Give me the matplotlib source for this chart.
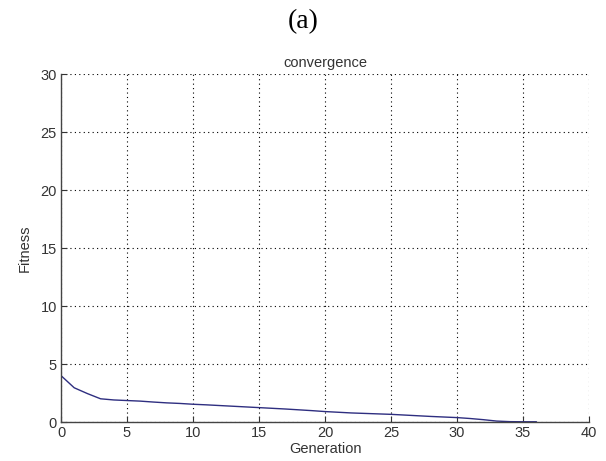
import matplotlib
matplotlib.use("Agg")
import matplotlib.pyplot as plt

generation = list(range(0, 37))
fitness = [4.0, 2.95, 2.45, 2.0, 1.9, 1.85, 1.8, 1.72, 1.65, 1.6, 1.53, 1.48, 1.42,
           1.36, 1.3, 1.24, 1.18, 1.12, 1.05, 0.98, 0.9, 0.84, 0.78, 0.74, 0.70,
           0.66, 0.6, 0.54, 0.48, 0.43, 0.38, 0.3, 0.2, 0.08, 0.03, 0.02, 0.02]
x_ticks = [0, 5, 10, 15, 20, 25, 30, 35, 40]
y_ticks = [0, 5, 10, 15, 20, 25, 30]

plt.rcParams['font.family'] = ['Liberation Sans', 'DejaVu Sans']

fig = plt.figure(figsize=(6.06, 4.61), dpi=100)
ax = fig.add_axes([61/606, 39/461, (589-61)/606, (422-74)/461])

ax.plot(generation, fitness, color='#2e2e80', linewidth=1.0)

ax.set_xlim(0, 40)
ax.set_ylim(0, 30)
ax.set_xticks(x_ticks)
ax.set_yticks(y_ticks)
ax.grid(True, linestyle=(0, (1, 3)), color='black', linewidth=0.8)
for s in ['top', 'right']:
    ax.spines[s].set_visible(False)
for s in ['left', 'bottom']:
    ax.spines[s].set_color('#444444')
    ax.spines[s].set_linewidth(1.0)
ax.tick_params(direction='in', length=4, labelsize=10.5, colors='#333333', pad=3)

ax.set_xlabel('Generation', fontsize=10.5, color='#333333', labelpad=1)
ax.set_ylabel('Fitness', fontsize=10.5, color='#333333', labelpad=6)
ax.set_title('convergence', fontsize=10.5, color='#333333', pad=5)

fig.text(0.5, 1 - 22/461, '(a)', ha='center', va='center', fontsize=20,
         family=['Liberation Serif', 'DejaVu Serif'])

fig.savefig('out.png', dpi=100)
